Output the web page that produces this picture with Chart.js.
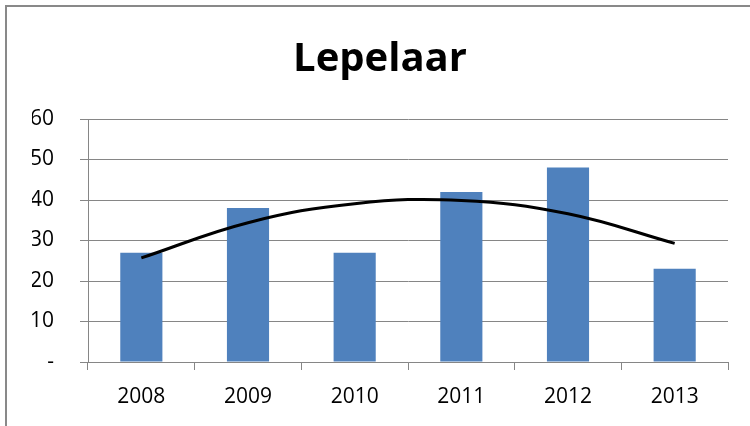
<!DOCTYPE html>
<html>
<head>
<meta charset="utf-8">
<script src="https://cdn.jsdelivr.net/npm/chart.js@4"></script>
<style>
  html, body { margin: 0; padding: 0; background: #fff; }
  #wrap { width: 750px; height: 426px; }
</style>
</head>
<body>
<div id="wrap"><canvas id="lepelaar" width="750" height="426"></canvas></div>
<script>
const years = ['2008', '2009', '2010', '2011', '2012', '2013'];
const counts = [27, 38, 27, 42, 48, 23];
// trend curve at each year
const trend = [25.7, 34.4, 39.1, 39.9, 36.6, 29.3];
const yTicks = [0, 10, 20, 30, 40, 50, 60];

const gridGrey = '#868686';

// outer frame of the chart
const frame = {
    id: 'frame',
    beforeDraw(chart) {
        const c = chart.ctx;
        c.save();
        c.fillStyle = '#fff';
        c.fillRect(0, 0, chart.width, chart.height);
        c.strokeStyle = '#898989';
        c.lineWidth = 2;
        c.strokeRect(6, 6, chart.width + 10, chart.height + 10);
        c.restore();
    }
};

const ctx = document.getElementById('lepelaar').getContext('2d');
const chart = new Chart(ctx, {
    type: 'bar',
    data: {
        labels: years,
        datasets: [{
            type: 'line',
            label: 'Trend',
            data: trend,
            borderColor: '#000',
            borderWidth: 3,
            pointRadius: 0,
            tension: 0.4,
            fill: false,
            order: 0
        }, {
            label: 'Lepelaar',
            data: counts,
            backgroundColor: '#4F81BD',
            borderWidth: 0,
            categoryPercentage: 1,
            barPercentage: 0.395,
            order: 1
        }]
    },
    options: {
        responsive: false,
        animation: false,
        layout: { padding: { left: 32, right: 22, top: 0, bottom: 0 } },
        plugins: {
            legend: { display: false },
            tooltip: { enabled: false },
            title: {
                display: true,
                text: 'Lepelaar',
                color: '#000',
                font: { family: 'Open Sans', size: 40, weight: 'bold' },
                padding: { top: 36, bottom: 35 }
            }
        },
        scales: {
            x: {
                offset: true,
                grid: {
                    offset: true,
                    drawOnChartArea: false,
                    color: gridGrey,
                    tickLength: 8
                },
                border: { color: gridGrey },
                ticks: {
                    color: '#000',
                    padding: 14,
                    font: { family: 'Open Sans', size: 21 }
                },
                afterFit(scale) { scale.height = 64; }
            },
            y: {
                min: 0,
                max: 60,
                afterBuildTicks(scale) {
                    scale.ticks = yTicks.map(v => ({ value: v }));
                },
                grid: { color: gridGrey, tickLength: 8 },
                border: { color: gridGrey },
                ticks: {
                    color: '#000',
                    padding: 26,
                    font: { family: 'Open Sans', size: 21 },
                    callback: v => v === 0 ? '-' : v
                },
                afterFit(scale) { scale.width = 56; }
            }
        }
    },
    plugins: [frame]
});
</script>
</body>
</html>
